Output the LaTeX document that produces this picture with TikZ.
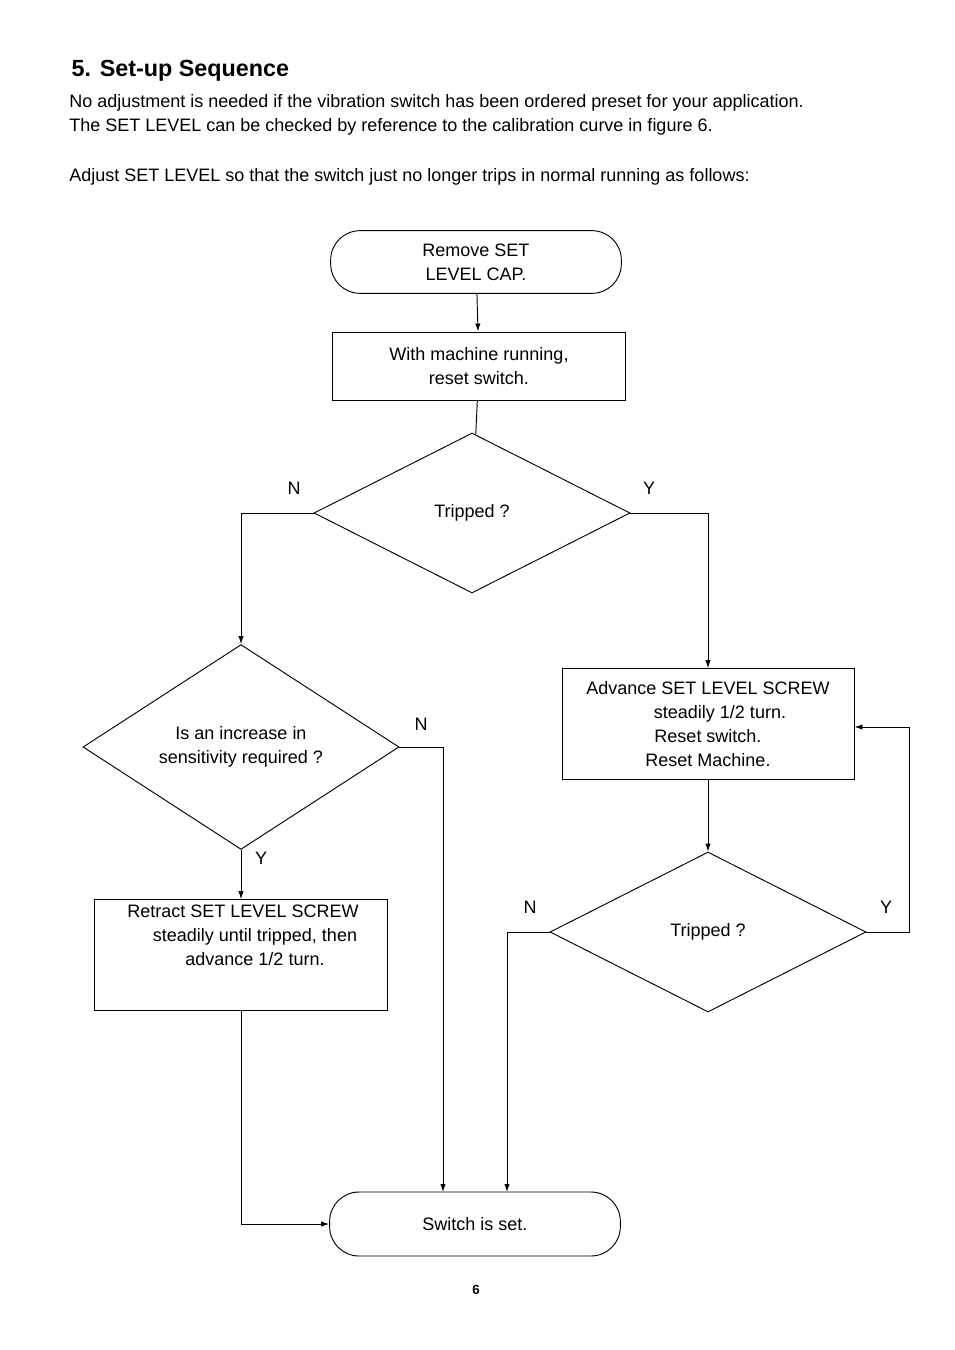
\documentclass[tikz,border=0pt]{standalone}
\usepackage{fontspec}
\setmainfont{Liberation Sans}
\usetikzlibrary{positioning, arrows.meta, shapes.geometric}
\tikzset{
    term/.style={rectangle, draw=black, line width=0.7pt, rounded corners=22pt, minimum width=218pt, align=center},
    flowStep/.style={rectangle, draw=black, line width=0.7pt, minimum width=220pt, align=center},
    check/.style={diamond, draw=black, line width=0.7pt, minimum width=237pt, minimum height=120pt, inner sep=0pt, align=center},
    arrow/.style={-{Latex[length=6pt,width=4pt]}, line width=0.7pt},
    line/.style={line width=0.7pt},
    yn/.style={font=\fontsize{13.5}{16}\selectfont}
}
\begin{document}
\begin{tikzpicture}[x=0.75pt, y=-0.75pt, font=\fontsize{13.5}{18}\selectfont]
        \useasboundingbox (0,0) rectangle (954,1350);
        % Heading and text
        \node[anchor=base west, font=\bfseries\fontsize{17.5}{20}\selectfont] (title) at (67,76) {5. Set-up Sequence};
        \node[anchor=north west, align=left, inner sep=0pt] (intro) at (69,94) {No adjustment is needed if the vibration switch has been ordered preset for your application.\\The SET LEVEL can be checked by reference to the calibration curve in figure 6.};
        \node[anchor=north west, inner sep=0pt] (adjust) at (69,168) {Adjust SET LEVEL so that the switch just no longer trips in normal running as follows:};
        
        % Flow chart
        \node[term, minimum height=47pt] (cap) at (476,262) {Remove SET\\LEVEL CAP.};
        \node[flowStep, minimum height=51pt] (reset) at (479,366) {With machine running,\\reset switch.};
        \node[check] (trip1) at (472,513) {Tripped ?};
        \node[check] (incr) at (241,747) {Is an increase in\\sensitivity required ?};
        \node[flowStep, minimum width=219pt, minimum height=83pt] (adv) at (708,724) {Advance SET LEVEL SCREW\\\hspace*{18pt}steadily 1/2 turn.\\Reset switch.\\Reset Machine.};
        \node[check] (trip2) at (708,932) {Tripped ?};
        \node[flowStep, minimum height=83pt] (retr) at (241,955) {};
        \node[anchor=north, align=center, inner sep=0pt] (retrtxt) at (243,905) {Retract SET LEVEL SCREW\\\hspace*{18pt}steadily until tripped, then\\\hspace*{18pt}advance 1/2 turn.};
        \node[term, minimum height=48pt] (done) at (475,1224) {Switch is set.};
        \node[font=\bfseries] (page) at (476,1290) {6};
        
        % Connectors
        \draw[arrow] (cap) -- (reset);
        \draw[line] (reset) -- (trip1);
        \draw[arrow] (trip1.west) -| (incr.north);
        \draw[arrow] (trip1.east) -| (adv.north);
        \draw[arrow] (incr.east) -- (443,747) -- (443,1192);
        \draw[arrow] (incr) -- (retr);
        \draw[arrow] (retr.south) |- (done.west);
        \draw[arrow] (adv) -- (trip2);
        \draw[arrow] (trip2.east) -- (909,932) |- (adv.east |- 0,727);
        \draw[arrow] (trip2.west) -- (507,932) -- (507,1192);
        
        % Labels
        \node[yn] (n1) at (294,488) {N};
        \node[yn] (y1) at (649,488) {Y};
        \node[yn] (n2) at (421,724) {N};
        \node[yn] (y2) at (261,858) {Y};
        \node[yn] (n3) at (530,907) {N};
        \node[yn] (y3) at (886,907) {Y};
    \end{tikzpicture}
\end{document}
